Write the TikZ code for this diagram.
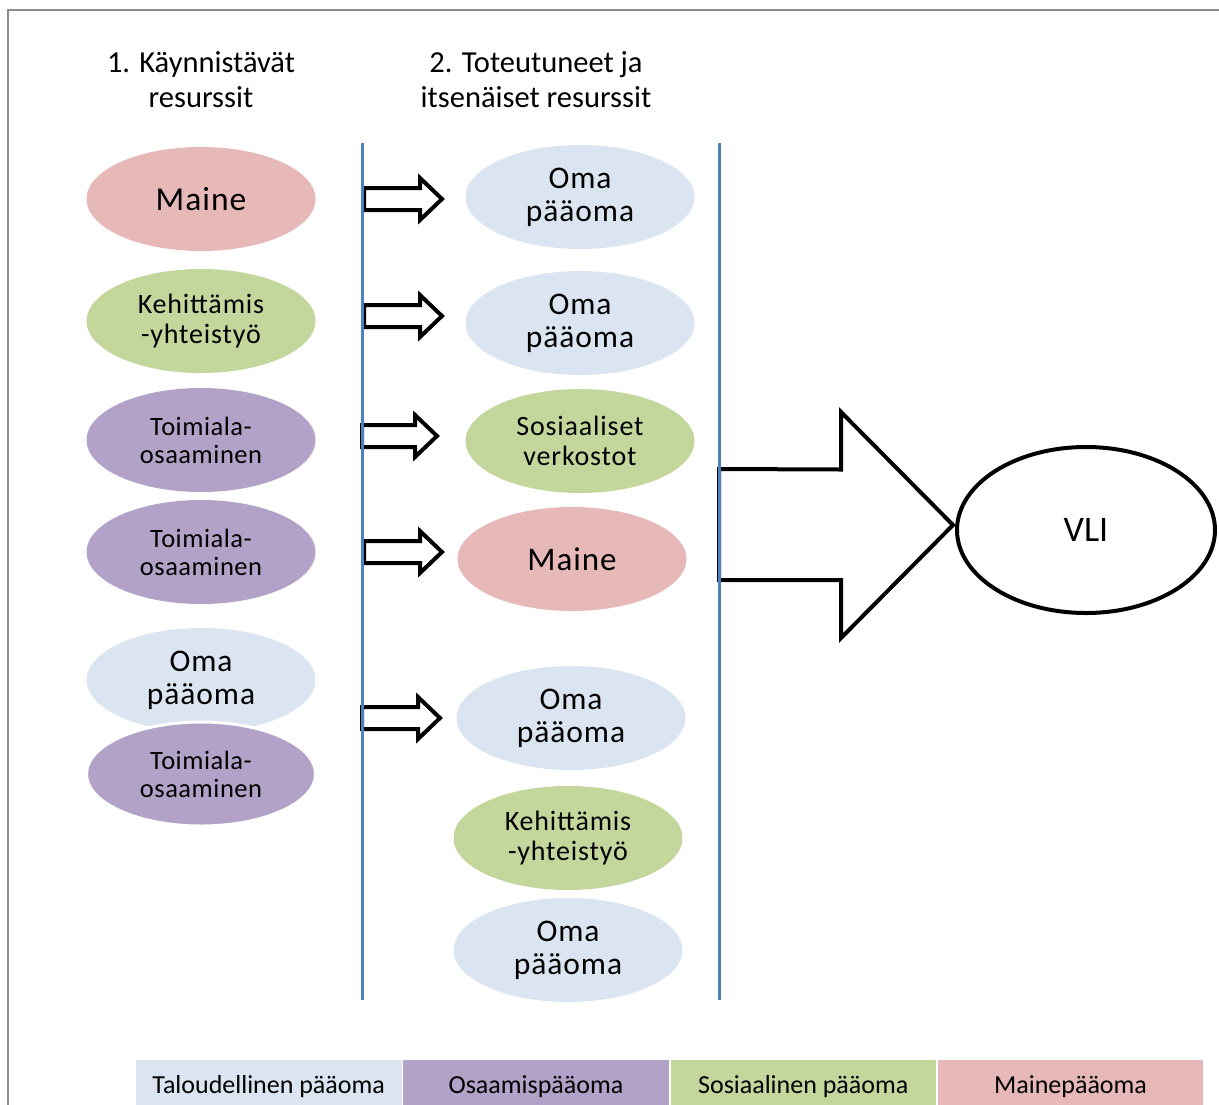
\documentclass[tikz,border=0pt]{standalone}
\usepackage{fontspec}
\setmainfont{Carlito}
\usetikzlibrary{shapes.geometric,calc}
\definecolor{talous}{HTML}{DBE5F1}
\definecolor{osaaminen}{HTML}{B3A2C7}
\definecolor{sosiaali}{HTML}{C3D69B}
\definecolor{maineclr}{HTML}{E6B9B8}
\definecolor{pylvas}{HTML}{4F81BD}
\definecolor{kehys}{HTML}{8C8C8C}

\begin{document}
\begin{tikzpicture}[x=1pt,y=-1pt,
  res/.style={ellipse, minimum width=229pt, minimum height=104pt, inner sep=0pt, align=center},
  fTal/.style={res, fill=talous, font={\fontsize{31.5}{33}\selectfont\addfontfeatures{LetterSpace=3}}},
  fOsa/.style={res, fill=osaaminen, font={\fontsize{26.5}{28}\selectfont\addfontfeatures{LetterSpace=2}}},
  fSos/.style={res, fill=sosiaali, font={\fontsize{28}{29.5}\selectfont\addfontfeatures{LetterSpace=3}}},
  fMai/.style={res, fill=maineclr, font={\fontsize{33.5}{36}\selectfont\addfontfeatures{LetterSpace=3}}},
  otsikko/.style={align=center, font=\fontsize{30.5}{35}\selectfont},
  blockarrow/.style={draw=black, fill=white, line width=4pt, line join=miter},
  pylvasviiva/.style={draw=pylvas, line width=3pt},
  selite/.style={anchor=north west, minimum width=266.5pt, minimum height=54pt, inner sep=0pt, draw=white, line width=0.8pt, font=\fontsize{26}{28}\selectfont}
]
\useasboundingbox (0,0) rectangle (1219,1104);
\fill[white] (0,0) rectangle (1219,1104);

% outer frame (continues past the page edge)
\begin{scope}
  \clip (0,0) rectangle (1219,1104);
  \draw[kehys, line width=2pt] (8,10) rectangle (1240,1130);
\end{scope}

% column headings
\node[otsikko] (otsikko1) at (201,80) {1. Käynnistävät\\resurssit};
\node[otsikko] (otsikko2) at (536,80) {2. Toteutuneet ja\\itsenäiset resurssit};

% starting resources
\node[fMai] (v1) at (201,199) {Maine};
\node[fSos] (v2) at (201,321) {Kehittämis\\-yhteistyö};
\node[fOsa] (v3) at (201,440) {Toimiala-\\osaaminen};
\node[fOsa] (v4) at (201,552) {Toimiala-\\osaaminen};
\node[fTal] (v5) at (201,680) {Oma\\pääoma};
\node[fOsa, draw=white, line width=3pt] (v6) at (201,774) {Toimiala-\\osaaminen};

% realised and independent resources
\node[fTal] (o1) at (580,197) {Oma\\pääoma};
\node[fTal] (o2) at (580,323) {Oma\\pääoma};
\node[fSos] (o3) at (580,441) {Sosiaaliset\\verkostot};
\node[fMai, font={\fontsize{33}{35}\selectfont\addfontfeatures{LetterSpace=3}}] (o4) at (572,559) {Maine};
\node[fTal] (o5) at (571,718) {Oma\\pääoma};
\node[fSos] (o6) at (568,838) {Kehittämis\\-yhteistyö};
\node[fTal] (o7) at (568,950) {Oma\\pääoma};

% small block arrows between the columns
\foreach \n/\x/\y/\l in {1/364/199/78, 2/364/316/78, 3/362/436/75, 4/364/552/78, 5/362/718/78}{
  \coordinate (nuoli\n) at (\x,\y);
  \draw[blockarrow] (nuoli\n) ++(0,-11) -- ++(\l-22,0) -- ++(0,-10) -- ++(22,21)
        -- ++(-22,21) -- ++(0,-10) -- ++(-\l+22,0) -- cycle;
}

% column separators
\coordinate (p1a) at (362,143); \coordinate (p1b) at (362,1000);
\coordinate (p2a) at (719,143); \coordinate (p2b) at (719,1000);
\draw[pylvasviiva] (p1a) -- (p1b);

% result
\node[ellipse, draw=black, line width=4pt, minimum width=258pt, minimum height=166pt,
      font=\fontsize{36}{38}\selectfont] (vli) at (1086,530) {VLI};

% large block arrow into the result
\coordinate (karki) at ($(vli.west)+(-2,-5)$);
\draw[blockarrow] (karki) -- ++(-112,-113) -- ++(0,57.5) -- (719,469)
      -- (719,580) -- ($(karki)+(-112,55)$) -- ++(0,58) -- cycle;
\draw[pylvasviiva] (p2a) -- (p2b);

% legend
\node[selite, fill=talous] (s1) at (135,1059) {Taloudellinen pääoma};
\node[selite, fill=osaaminen] (s2) at (s1.north east) {Osaamispääoma};
\node[selite, fill=sosiaali] (s3) at (s2.north east) {Sosiaalinen pääoma};
\node[selite, fill=maineclr] (s4) at (s3.north east) {Mainepääoma};
\end{tikzpicture}
\end{document}
